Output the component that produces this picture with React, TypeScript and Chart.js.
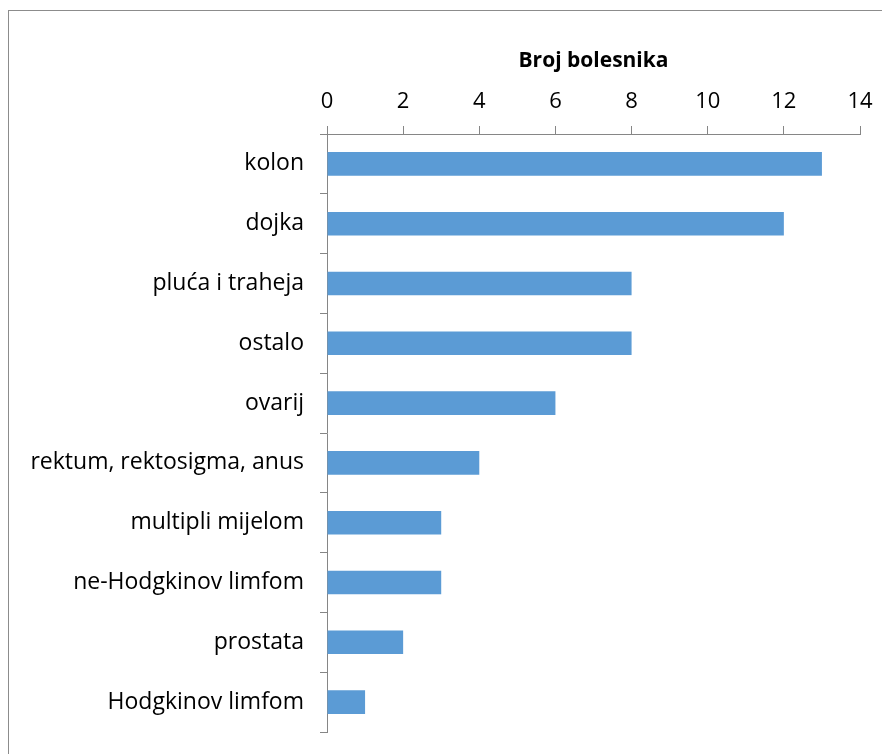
import React, { useEffect, useRef } from 'react';
import { Chart, registerables } from 'chart.js';

Chart.register(...registerables);

const categories = [
  'kolon',
  'dojka',
  'pluća i traheja',
  'ostalo',
  'ovarij',
  'rektum, rektosigma, anus',
  'multipli mijelom',
  'ne-Hodgkinov limfom',
  'prostata',
  'Hodgkinov limfom',
];
const patients = [13, 12, 8, 8, 6, 4, 3, 3, 2, 1];
const axisTitle = 'Broj bolesnika';
const xMin = 0;
const xMax = 14;
const xStep = 2;

const FONT = '"Open Sans", Lato, sans-serif';
const AXIS_COLOR = '#868686';

export default function App() {
  const ref = useRef<HTMLCanvasElement | null>(null);

  useEffect(() => {
    if (!ref.current) return;
    const chart = new Chart(ref.current, {
      type: 'bar',
      data: {
        labels: categories,
        datasets: [
          {
            data: patients,
            backgroundColor: '#5b9bd5',
            borderWidth: 0,
            barPercentage: 0.395,
            categoryPercentage: 1,
          },
        ],
      },
      options: {
        indexAxis: 'y',
        responsive: false,
        animation: false,
        devicePixelRatio: 1,
        layout: { padding: { top: 0, right: 30, bottom: 22, left: 0 } },
        plugins: {
          legend: { display: false },
          tooltip: { enabled: false },
        },
        scales: {
          x: {
            position: 'top',
            min: xMin,
            max: xMax,
            ticks: {
              stepSize: xStep,
              color: '#000',
              padding: 11,
              font: { family: FONT, size: 22 },
            },
            grid: {
              drawOnChartArea: false,
              tickLength: 8,
              color: AXIS_COLOR,
              lineWidth: 1,
            },
            border: { color: AXIS_COLOR, width: 1 },
            title: {
              display: true,
              text: axisTitle,
              color: '#000',
              font: { family: FONT, size: 21, weight: 'bold' },
              padding: { top: 40, bottom: 0 },
            },
            afterFit: (scale: any) => {
              scale.height = 126;
            },
          },
          y: {
            ticks: {
              color: '#000',
              padding: 16,
              font: { family: FONT, size: 23 },
            },
            grid: {
              drawOnChartArea: false,
              offset: true,
              tickLength: 7,
              color: AXIS_COLOR,
              lineWidth: 1,
            },
            border: { color: AXIS_COLOR, width: 1 },
            afterFit: (scale: any) => {
              scale.width = 319;
              scale.paddingTop = 0;
              scale.paddingBottom = 0;
            },
          },
        },
      },
    });
    return () => chart.destroy();
  }, []);

  return (
    <div style={{ position: 'relative', width: 882, height: 746, overflow: 'hidden' }}>
      <div
        style={{
          position: 'absolute',
          left: 0,
          top: 2,
          width: 900,
          height: 800,
          borderTop: '1px solid #8c8c8c',
          borderLeft: '1px solid #8c8c8c',
        }}
      />
      <canvas
        ref={ref}
        width={882}
        height={746}
        style={{ position: 'absolute', left: 0, top: 0, width: 882, height: 746 }}
      />
    </div>
  );
}
